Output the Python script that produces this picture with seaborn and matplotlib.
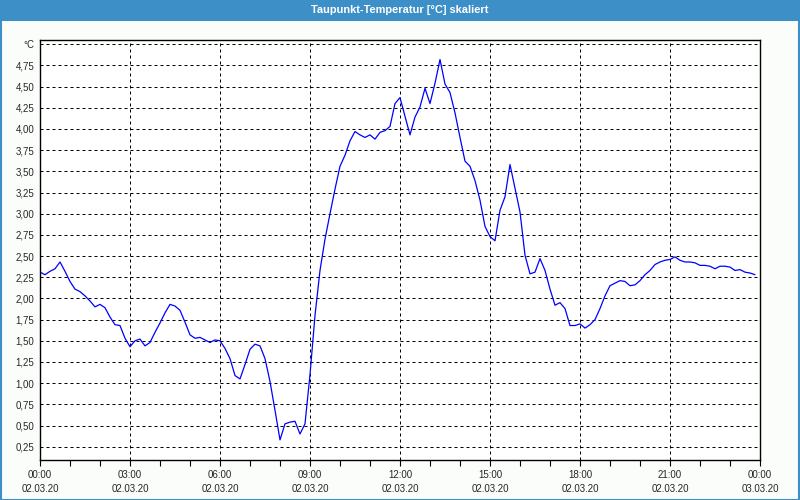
import numpy as np
import pandas as pd
import matplotlib
matplotlib.use("Agg")
import matplotlib.pyplot as plt
import seaborn as sns
from matplotlib.patches import Rectangle

# ---------------- data ----------------
title = "Taupunkt-Temperatur [°C] skaliert"
step_minutes = 10
dew_point = [
    2.31, 2.28, 2.32, 2.35, 2.43, 2.32, 2.20, 2.11, 2.08, 2.03, 1.97, 1.90,
    1.93, 1.89, 1.78, 1.69, 1.68, 1.53, 1.43, 1.50, 1.52, 1.44, 1.48, 1.60,
    1.71, 1.83, 1.93, 1.91, 1.86, 1.72, 1.57, 1.53, 1.54, 1.51, 1.48, 1.51,
    1.50, 1.41, 1.29, 1.09, 1.05, 1.22, 1.40, 1.46, 1.44, 1.29, 1.02, 0.68,
    0.33, 0.52, 0.54, 0.55, 0.40, 0.52, 1.10, 1.80, 2.33, 2.70, 3.00, 3.29,
    3.56, 3.69, 3.86, 3.97, 3.93, 3.90, 3.93, 3.88, 3.96, 3.98, 4.03, 4.30,
    4.37, 4.15, 3.93, 4.14, 4.26, 4.48, 4.30, 4.54, 4.82, 4.53, 4.43, 4.19,
    3.90, 3.62, 3.56, 3.39, 3.16, 2.85, 2.73, 2.68, 3.04, 3.20, 3.58, 3.30,
    3.02, 2.51, 2.29, 2.31, 2.47, 2.33, 2.11, 1.92, 1.95, 1.88, 1.68, 1.68,
    1.70, 1.65, 1.69, 1.75, 1.88, 2.03, 2.15, 2.18, 2.21, 2.20, 2.15, 2.16,
    2.21, 2.28, 2.33, 2.40, 2.43, 2.45, 2.46, 2.49, 2.45, 2.43, 2.43, 2.42,
    2.39, 2.39, 2.38, 2.35, 2.38, 2.38, 2.37, 2.33, 2.34, 2.31, 2.30, 2.28,
]
x_tick_hours = [0, 3, 6, 9, 12, 15, 18, 21, 24]
x_tick_labels = ["00:00\n02.03.20", "03:00\n02.03.20", "06:00\n02.03.20",
                 "09:00\n02.03.20", "12:00\n02.03.20", "15:00\n02.03.20",
                 "18:00\n02.03.20", "21:00\n02.03.20", "00:00\n03.03.20"]
y_ticks = [0.25, 0.5, 0.75, 1.0, 1.25, 1.5, 1.75, 2.0, 2.25, 2.5,
           2.75, 3.0, 3.25, 3.5, 3.75, 4.0, 4.25, 4.5, 4.75, 5.0]
y_tick_labels = ["0,25", "0,50", "0,75", "1,00", "1,25", "1,50", "1,75",
                 "2,00", "2,25", "2,50", "2,75", "3,00", "3,25", "3,50",
                 "3,75", "4,00", "4,25", "4,50", "4,75", "°C"]

hours = np.arange(len(dew_point)) * step_minutes / 60.0
df = pd.DataFrame({"hours": hours, "value": dew_point})

# ---------------- style ----------------
sns.set_style("white")
plt.rcParams["font.family"] = ["Liberation Sans", "DejaVu Sans"]

W, H = 800, 500
fig = plt.figure(figsize=(8, 5), dpi=100)
fig.patch.set_facecolor("#fbfdfb")

bar_color = "#3d8fc7"
# title bar
fig.patches.append(Rectangle((0, 1 - 21 / H), 1, 21 / H, transform=fig.transFigure,
                             facecolor=bar_color, edgecolor="none", zorder=0))
# outer frame
fig.patches.append(Rectangle((0.5 / W, 0.5 / H), 1 - 2 / W, 1 - 2 / H,
                             transform=fig.transFigure, facecolor="none",
                             edgecolor=bar_color, linewidth=1.5, zorder=5))
fig.text(0.5, 1 - 10 / H, title, ha="center", va="center", color="white",
         fontsize=7.9, fontweight="bold")

ax = fig.add_axes([40 / W, 40 / H, 720 / W, 420 / H])
ax.set_facecolor("white")

sns.lineplot(data=df, x="hours", y="value", ax=ax, color="#0000ff",
             linewidth=0.9, legend=False)

ax.set_xlim(0, 24)
ax.set_ylim(0.093, 5.05)
ax.set_xticks(x_tick_hours)
ax.set_xticklabels(x_tick_labels, linespacing=1.5)
ax.set_xticks(np.arange(0, 25, 1), minor=True)
ax.set_yticks(y_ticks)
ax.set_yticklabels(y_tick_labels)
ax.set_xlabel("")
ax.set_ylabel("")

ax.tick_params(axis="x", which="both", direction="out", length=4, width=0.8,
               color="black", labelsize=7, pad=3, bottom=True)
ax.tick_params(axis="y", which="both", length=0, labelsize=7, pad=4)

ax.grid(True, which="major", color="black", linestyle=(0, (3, 3)),
        linewidth=0.72)
for s in ax.spines.values():
    s.set_visible(True)
    s.set_color("black")
    s.set_linewidth(1.0)

fig.savefig("out.png", dpi=100, facecolor=fig.get_facecolor())
